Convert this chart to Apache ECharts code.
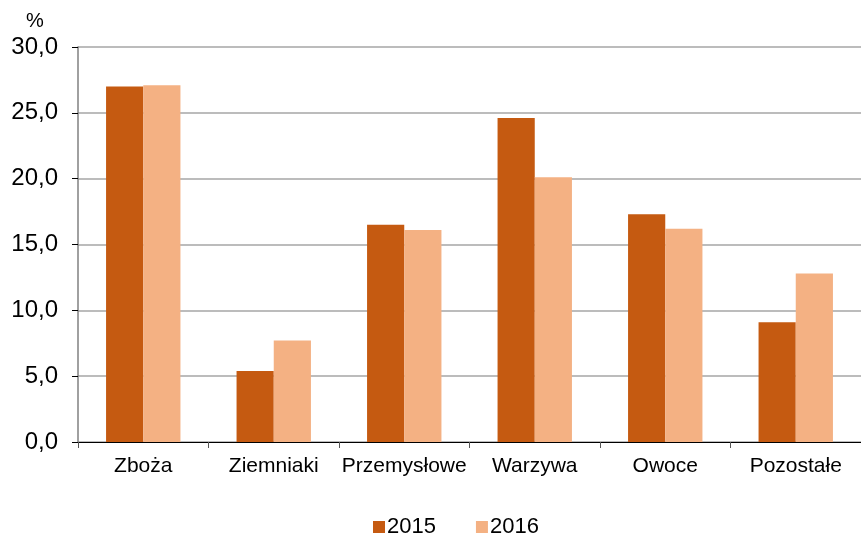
<!DOCTYPE html>
<html>
<head>
<meta charset="utf-8">
<script src="https://cdn.jsdelivr.net/npm/echarts@6/dist/echarts.min.js"></script>
<style>
  html, body { margin: 0; padding: 0; background: #fff; }
  #chart { width: 861px; height: 535px; }
</style>
</head>
<body>
<div id="chart"></div>
<script>
// dane z wykresu
var categories = ['Zboża', 'Ziemniaki', 'Przemysłowe', 'Warzywa', 'Owoce', 'Pozostałe'];
var values2015 = [27.0, 5.4, 16.5, 24.6, 17.3, 9.1];
var values2016 = [27.1, 7.7, 16.1, 20.1, 16.2, 12.8];
var seriesNames = ['2015', '2016'];

var chart = echarts.init(document.getElementById('chart'));

function fmt(v) {
  return v.toFixed(1).replace('.', ',');
}

var option = {
  animation: false,
  textStyle: { fontFamily: 'Liberation Sans, Arial, sans-serif' },
  grid: { left: 78, top: 47, right: -7, bottom: 93, containLabel: false },
  legend: {
    bottom: -8,
    left: 368,
    itemWidth: 12,
    itemHeight: 12,
    itemGap: 40,
    icon: 'rect',
    textStyle: { fontSize: 22, color: '#000', padding: [0, 0, 0, -3] },
    data: seriesNames
  },
  graphic: [{
    type: 'text',
    left: 26,
    top: 11,
    style: { text: '%', fontSize: 20, fill: '#000', fontFamily: 'Liberation Sans, Arial, sans-serif' }
  }],
  xAxis: {
    type: 'category',
    data: categories,
    axisLine: { lineStyle: { color: '#000', width: 1.2 } },
    axisTick: { show: true, length: 6, lineStyle: { color: '#555' } },
    axisLabel: { fontSize: 21, color: '#000', margin: 14, interval: 0 }
  },
  yAxis: {
    type: 'value',
    min: 0,
    max: 30,
    interval: 5,
    axisLine: { show: true, lineStyle: { color: '#808080', width: 1.5 } },
    axisTick: { show: true, length: 6, lineStyle: { color: '#000' } },
    axisLabel: { fontSize: 24, color: '#000', margin: 20, formatter: fmt },
    splitLine: { lineStyle: { color: '#a6a6a6', width: 1.5 } }
  },
  series: [{
    name: seriesNames[0],
    type: 'bar',
    data: values2015,
    barGap: '0%',
    barCategoryGap: '43%',
    itemStyle: { color: '#c55a11' }
  }, {
    name: seriesNames[1],
    type: 'bar',
    data: values2016,
    barGap: '0%',
    barCategoryGap: '43%',
    itemStyle: { color: '#f4b183' }
  }]
};

chart.setOption(option);
</script>
</body>
</html>
